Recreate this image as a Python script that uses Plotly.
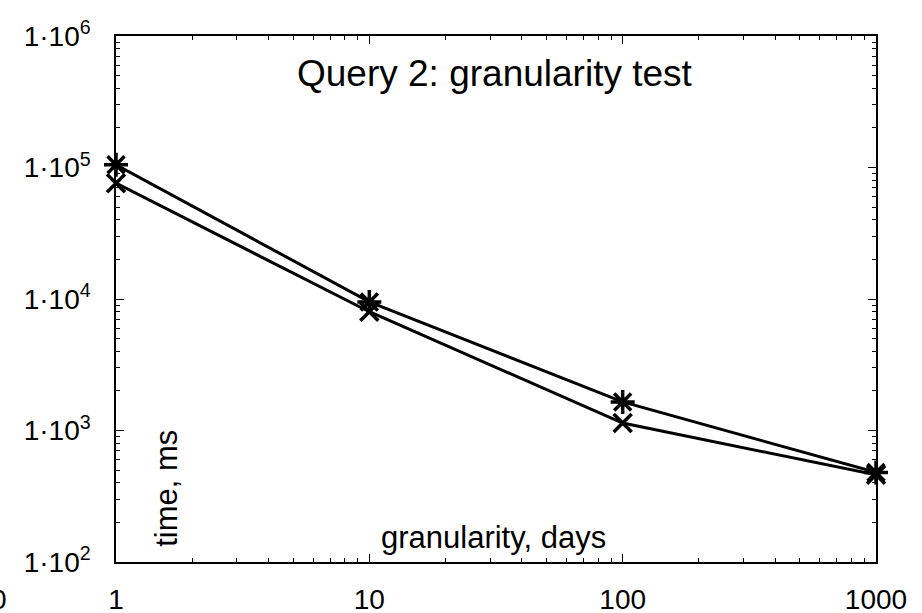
import plotly.graph_objects as go

granularity = [1, 10, 100, 1000]
time_star = [105000, 9500, 1650, 480]
time_x = [76000, 8000, 1140, 460]

y_tickvals = [1e2, 1e3, 1e4, 1e5, 1e6]
y_ticktext = ["1·10<sup>2</sup>", "1·10<sup>3</sup>", "1·10<sup>4</sup>", "1·10<sup>5</sup>", "1·10<sup>6</sup>"]
x_tickvals = [1, 10, 100, 1000]
x_ticktext = ["1", "10", "100", "1000"]

FONT = "Liberation Sans, Arial, Helvetica, sans-serif"

fig = go.Figure()
fig.add_trace(go.Scatter(
    x=granularity, y=time_star, mode="lines+markers",
    line=dict(color="black", width=3),
    marker=dict(symbol="asterisk-open", size=20, color="black", line=dict(color="black", width=3.5)),
    showlegend=False, cliponaxis=False))
fig.add_trace(go.Scatter(
    x=granularity, y=time_x, mode="lines+markers",
    line=dict(color="black", width=3),
    marker=dict(symbol="x-thin-open", size=18, color="black", line=dict(color="black", width=3.5)),
    showlegend=False, cliponaxis=False))

axis_common = dict(
    showline=True, linecolor="black", linewidth=1.5, mirror="allticks",
    ticks="inside", ticklen=8, tickwidth=1.2, tickcolor="black",
    showgrid=False, zeroline=False, automargin=False,
    tickfont=dict(family=FONT, size=28, color="black"),
    minor=dict(ticks="inside", ticklen=4, tickwidth=1, tickcolor="black", showgrid=False, dtick="D1"),
)

fig.update_xaxes(type="log", range=[0, 3], tickvals=x_tickvals, ticktext=x_ticktext,
                 ticklabelstandoff=12, **axis_common)
fig.update_yaxes(type="log", range=[2, 6], tickvals=y_tickvals, ticktext=y_ticktext,
                 ticklabelstandoff=18, **axis_common)

fig.add_annotation(text="Query 2: granularity test", xref="paper", yref="paper",
                   x=0.499, y=0.928, xanchor="center", yanchor="middle", showarrow=False,
                   font=dict(family=FONT, size=37, color="black"))
fig.add_annotation(text="granularity, days", xref="paper", yref="paper",
                   x=0.497, y=0.0475, xanchor="center", yanchor="middle", showarrow=False,
                   font=dict(family=FONT, size=31, color="black"))
fig.add_annotation(text="time, ms", xref="paper", yref="paper",
                   x=0.067, y=0.141, xanchor="center", yanchor="middle", textangle=-90, showarrow=False,
                   font=dict(family=FONT, size=31, color="black"))
fig.add_annotation(text="0", xref="paper", yref="paper",
                   x=-0.154, y=-0.072, xanchor="center", yanchor="middle", showarrow=False,
                   font=dict(family=FONT, size=28, color="black"))

fig.update_layout(
    width=922, height=613,
    margin=dict(l=116, r=46, t=36, b=51),
    paper_bgcolor="white", plot_bgcolor="white",
    font=dict(family=FONT, color="black"),
)

fig.write_html("out.html", config={"displayModeBar": False},
               post_script="document.body.style.margin='0px';document.body.style.padding='0px';")
